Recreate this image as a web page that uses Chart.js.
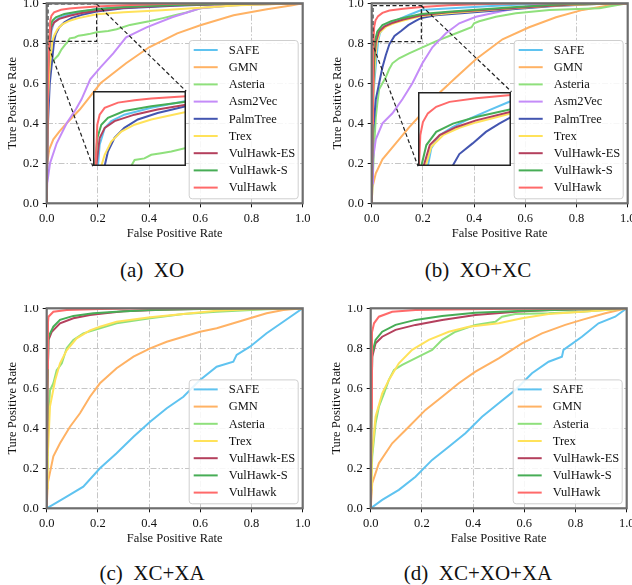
<!DOCTYPE html>
<html>
<head>
<meta charset="utf-8">
<script src="https://cdn.jsdelivr.net/npm/chart.js@4"></script>
<style>
  body { margin: 0; width: 632px; height: 585px; overflow: hidden; background: #fff; position: relative; font-family: "Liberation Serif", "DejaVu Serif", serif; }
  canvas { position: absolute; }
  .cap { position: absolute; font-size: 21px; color: #111; transform: translate(-50%, -50%); white-space: pre; }
</style>
</head>
<body>
<canvas id="pa" width="316" height="245" style="left:0px;top:0px"></canvas>
<canvas id="pb" width="316" height="245" style="left:325px;top:0px"></canvas>
<canvas id="pc" width="316" height="245" style="left:0px;top:305px"></canvas>
<canvas id="pd" width="316" height="245" style="left:324px;top:305px"></canvas>
<div class="cap" style="left:152px;top:270px">(a)  XO</div>
<div class="cap" style="left:478px;top:270px">(b)  XO+XC</div>
<div class="cap" style="left:152px;top:573px">(c)  XC+XA</div>
<div class="cap" style="left:478px;top:573px">(d)  XC+XO+XA</div>
<script>
// ---- data: ROC points [FPR, TPR] ----
const namesFull = ['SAFE', 'GMN', 'Asteria', 'Asm2Vec', 'PalmTree', 'Trex', 'VulHawk-ES', 'VulHawk-S', 'VulHawk'];
const namesShort = ['SAFE', 'GMN', 'Asteria', 'Trex', 'VulHawk-ES', 'VulHawk-S', 'VulHawk'];
const tickVals = [0, 0.2, 0.4, 0.6, 0.8, 1.0];

// (a) XO
const xoSAFE = [[0,0],[0.003,0.5],[0.008,0.72],[0.0152,0.81],[0.0186,0.863],[0.029,0.905],[0.0423,0.922],[0.069,0.938],[0.124,0.955],[0.195,0.972],[0.3,0.984],[0.5,0.993],[0.7,0.998],[1,1]];
const xoGMN = [[0,0],[0.002,0.2],[0.01,0.27],[0.026,0.32],[0.05,0.36],[0.078,0.4],[0.13,0.47],[0.21,0.6],[0.31,0.7],[0.4,0.78],[0.51,0.85],[0.6,0.89],[0.73,0.94],[0.86,0.97],[0.96,0.99],[1,1]];
const xoAsteria = [[0,0],[0.002,0.45],[0.005,0.58],[0.01,0.64],[0.015,0.68],[0.02,0.7],[0.03,0.72],[0.045,0.74],[0.058,0.77],[0.07,0.79],[0.083,0.81],[0.09,0.825],[0.11,0.829],[0.124,0.838],[0.144,0.842],[0.165,0.846],[0.195,0.855],[0.24,0.862],[0.273,0.87],[0.325,0.892],[0.4,0.91],[0.454,0.926],[0.5,0.94],[0.546,0.954],[0.6,0.975],[0.73,0.99],[0.88,0.997],[1,1]];
const xoAsm2Vec = [[0,0],[0.002,0.1],[0.013,0.2],[0.039,0.3],[0.078,0.4],[0.114,0.47],[0.136,0.52],[0.17,0.62],[0.21,0.68],[0.26,0.75],[0.31,0.83],[0.39,0.88],[0.49,0.93],[0.6,0.975],[0.73,0.99],[0.86,0.995],[1,1]];
const xoPalmTree = [[0,0],[0.005,0.4],[0.012,0.6],[0.02,0.7],[0.0288,0.81],[0.0355,0.846],[0.049,0.88],[0.069,0.905],[0.0966,0.926],[0.137,0.942],[0.195,0.959],[0.3,0.975],[0.5,0.988],[0.7,0.996],[1,1]];
const xoTrex = [[0,0],[0.003,0.45],[0.01,0.65],[0.016,0.74],[0.022,0.81],[0.0288,0.838],[0.0423,0.871],[0.0627,0.896],[0.0898,0.913],[0.124,0.926],[0.195,0.945],[0.3,0.955],[0.45,0.965],[0.6,0.978],[0.75,0.99],[0.9,0.997],[1,1]];
const xoES = [[0,0],[0.004,0.6],[0.008,0.75],[0.0118,0.81],[0.0186,0.88],[0.029,0.905],[0.049,0.922],[0.0898,0.938],[0.137,0.951],[0.195,0.963],[0.3,0.978],[0.5,0.99],[0.7,0.997],[1,1]];
const xoS = [[0,0],[0.004,0.65],[0.0097,0.81],[0.0138,0.88],[0.022,0.913],[0.0355,0.93],[0.069,0.947],[0.124,0.959],[0.195,0.97],[0.3,0.982],[0.5,0.992],[0.7,0.998],[1,1]];
const xoVulHawk = [[0,0],[0.003,0.4],[0.007,0.7],[0.0104,0.81],[0.0138,0.913],[0.0186,0.938],[0.0288,0.955],[0.056,0.968],[0.0898,0.974],[0.124,0.978],[0.195,0.984],[0.3,0.99],[0.45,0.996],[0.6,1],[1,1]];

// (b) XO+XC
const xcSAFE = [[0,0],[0.004,0.4],[0.01,0.6],[0.018,0.72],[0.025,0.808],[0.032,0.851],[0.049,0.883],[0.076,0.903],[0.11,0.923],[0.15,0.944],[0.194,0.966],[0.26,0.972],[0.33,0.976],[0.45,0.985],[0.6,0.995],[0.8,0.999],[1,1]];
const xcGMN = [[0,0],[0.003,0.08],[0.016,0.15],[0.042,0.22],[0.094,0.3],[0.146,0.38],[0.211,0.47],[0.263,0.55],[0.33,0.63],[0.407,0.72],[0.511,0.82],[0.615,0.88],[0.72,0.93],[0.824,0.967],[0.93,0.99],[1,1]];
const xcAsteria = [[0,0],[0.004,0.12],[0.009,0.27],[0.016,0.43],[0.022,0.5],[0.029,0.57],[0.042,0.6],[0.055,0.63],[0.068,0.67],[0.081,0.7],[0.107,0.725],[0.146,0.75],[0.198,0.78],[0.25,0.81],[0.33,0.85],[0.39,0.88],[0.4,0.9],[0.42,0.91],[0.485,0.933],[0.563,0.95],[0.694,0.967],[0.89,0.975],[0.954,0.99],[1,1]];
const xcAsm2Vec = [[0,0],[0.002,0.1],[0.005,0.22],[0.016,0.32],[0.042,0.4],[0.081,0.45],[0.12,0.52],[0.159,0.6],[0.198,0.7],[0.237,0.78],[0.29,0.85],[0.342,0.9],[0.407,0.933],[0.498,0.958],[0.563,0.975],[0.63,0.99],[0.69,0.997],[1,1]];
const xcPalmTree = [[0,0],[0.005,0.35],[0.016,0.52],[0.029,0.6],[0.042,0.68],[0.055,0.74],[0.069,0.795],[0.089,0.837],[0.116,0.863],[0.143,0.891],[0.17,0.911],[0.194,0.927],[0.25,0.94],[0.35,0.95],[0.5,0.965],[0.7,0.985],[0.9,0.998],[1,1]];
const xcTrex = [[0,0],[0.004,0.45],[0.01,0.65],[0.015,0.74],[0.0205,0.808],[0.032,0.855],[0.056,0.883],[0.089,0.901],[0.123,0.914],[0.194,0.936],[0.3,0.95],[0.5,0.97],[0.7,0.988],[0.9,0.998],[1,1]];
const xcES = [[0,0],[0.004,0.5],[0.01,0.72],[0.0165,0.808],[0.029,0.859],[0.049,0.883],[0.083,0.903],[0.123,0.919],[0.194,0.94],[0.3,0.955],[0.45,0.968],[0.6,0.98],[0.8,0.995],[1,1]];
const xcS = [[0,0],[0.004,0.55],[0.008,0.72],[0.0118,0.808],[0.022,0.859],[0.042,0.891],[0.076,0.911],[0.123,0.927],[0.194,0.946],[0.3,0.958],[0.395,0.967],[0.55,0.98],[0.75,0.995],[1,1]];
const xcVulHawk = [[0,0],[0.002,0.4],[0.005,0.7],[0.007,0.808],[0.0097,0.883],[0.015,0.915],[0.025,0.936],[0.042,0.952],[0.069,0.964],[0.123,0.973],[0.194,0.981],[0.3,0.99],[0.45,0.997],[0.6,1],[1,1]];

// (c) XC+XA
const xaSAFE = [[0,0],[0.04,0.03],[0.078,0.058],[0.143,0.108],[0.208,0.2],[0.273,0.275],[0.339,0.358],[0.404,0.433],[0.469,0.5],[0.534,0.558],[0.599,0.642],[0.664,0.708],[0.729,0.733],[0.742,0.767],[0.794,0.808],[0.859,0.875],[0.924,0.933],[1,1]];
const xaGMN = [[0,0],[0.004,0.125],[0.026,0.26],[0.052,0.325],[0.091,0.408],[0.13,0.475],[0.169,0.558],[0.208,0.625],[0.273,0.7],[0.339,0.758],[0.404,0.8],[0.469,0.833],[0.534,0.858],[0.599,0.883],[0.664,0.9],[0.729,0.925],[0.794,0.95],[0.859,0.975],[0.924,0.992],[1,1]];
const xaAsteria = [[0,0],[0.002,0.2],[0.004,0.425],[0.013,0.59],[0.026,0.625],[0.039,0.69],[0.059,0.725],[0.078,0.8],[0.104,0.842],[0.143,0.875],[0.208,0.9],[0.273,0.925],[0.404,0.95],[0.534,0.972],[0.664,0.983],[0.859,0.995],[1,1]];
const xaTrex = [[0,0],[0.002,0.1],[0.004,0.26],[0.013,0.51],[0.033,0.64],[0.052,0.725],[0.078,0.79],[0.117,0.85],[0.169,0.89],[0.208,0.908],[0.273,0.933],[0.404,0.955],[0.534,0.972],[0.664,0.988],[0.794,0.995],[1,1]];
const xaES = [[0,0],[0.003,0.6],[0.007,0.842],[0.02,0.883],[0.052,0.925],[0.104,0.95],[0.169,0.967],[0.228,0.975],[0.3,0.985],[0.45,0.993],[0.7,1],[1,1]];
const xaS = [[0,0],[0.003,0.6],[0.007,0.858],[0.026,0.908],[0.052,0.942],[0.104,0.962],[0.182,0.975],[0.273,0.983],[0.404,0.992],[0.6,0.997],[1,1]];
const xaVulHawk = [[0,0],[0.003,0.7],[0.005,0.93],[0.007,0.958],[0.026,0.983],[0.078,0.992],[0.21,0.997],[0.4,1],[1,1]];

// (d) XC+XO+XA
const allSAFE = [[0,0],[0.045,0.042],[0.11,0.092],[0.175,0.158],[0.24,0.242],[0.305,0.308],[0.37,0.375],[0.435,0.458],[0.5,0.525],[0.565,0.592],[0.63,0.675],[0.695,0.733],[0.747,0.758],[0.753,0.792],[0.825,0.858],[0.89,0.925],[0.955,0.958],[1,1]];
const allGMN = [[0,0],[0.006,0.125],[0.032,0.225],[0.084,0.325],[0.149,0.408],[0.214,0.492],[0.279,0.558],[0.344,0.625],[0.409,0.683],[0.5,0.75],[0.591,0.825],[0.669,0.875],[0.76,0.917],[0.825,0.942],[0.916,0.975],[1,1]];
const allAsteria = [[0,0],[0.003,0.15],[0.006,0.26],[0.019,0.425],[0.032,0.508],[0.052,0.575],[0.071,0.642],[0.091,0.692],[0.123,0.717],[0.162,0.742],[0.201,0.767],[0.24,0.792],[0.279,0.842],[0.331,0.883],[0.409,0.917],[0.487,0.933],[0.513,0.958],[0.565,0.972],[0.695,0.975],[0.825,0.983],[0.955,0.995],[1,1]];
const allTrex = [[0,0],[0.002,0.1],[0.004,0.26],[0.019,0.458],[0.045,0.575],[0.071,0.642],[0.11,0.725],[0.162,0.792],[0.227,0.842],[0.305,0.883],[0.383,0.908],[0.5,0.925],[0.591,0.95],[0.695,0.972],[0.825,0.983],[0.955,0.995],[1,1]];
const allES = [[0,0],[0.003,0.5],[0.006,0.758],[0.019,0.825],[0.045,0.858],[0.097,0.892],[0.175,0.917],[0.279,0.942],[0.409,0.967],[0.565,0.983],[0.7,0.992],[1,1]];
const allS = [[0,0],[0.003,0.5],[0.006,0.775],[0.019,0.842],[0.045,0.883],[0.097,0.917],[0.175,0.942],[0.279,0.962],[0.409,0.978],[0.6,0.988],[1,1]];
const allVulHawk = [[0,0],[0.002,0.5],[0.005,0.88],[0.013,0.925],[0.032,0.958],[0.084,0.983],[0.175,0.992],[0.45,0.997],[1,1]];

// ---- styles ----
const colorOf = {
  'SAFE': '#5fc3f0', 'GMN': '#ffb264', 'Asteria': '#8fe07c', 'Asm2Vec': '#c48cf8', 'PalmTree': '#4355b0',
  'Trex': '#ffe25a', 'VulHawk-ES': '#b4405d', 'VulHawk-S': '#47ad56', 'VulHawk': '#ff6a6a'
};
const SERIF = '"Liberation Serif", "DejaVu Serif", serif';
Chart.defaults.font.family = SERIF;
Chart.defaults.font.size = 12;
Chart.defaults.color = '#111';
Chart.defaults.animation = false;

const framePlugin = {
  id: 'frame',
  beforeDraw(ch, args, o) {
    if (!o.bg) return;
    const c = ch.ctx;
    c.save(); c.fillStyle = '#fff'; c.fillRect(0, 0, ch.width, ch.height); c.restore();
  },
  afterDraw(ch, args, o) {
    const c = ch.ctx, a = ch.chartArea;
    c.save();
    c.strokeStyle = o.color || '#707070';
    c.lineWidth = o.width || 2;
    const h = o.inside ? c.lineWidth / 2 : 0;
    c.strokeRect(a.left + h, a.top + h, a.right - a.left - 2 * h, a.bottom - a.top - 2 * h);
    c.restore();
  }
};

// dashed zoom rectangle + connector lines to the inset
const zoomMarkPlugin = {
  id: 'zoomMark',
  afterDatasetsDraw(ch, args, o) {
    if (!o.region) return;
    const c = ch.ctx, xs = ch.scales.x, ys = ch.scales.y;
    const [rx0, rx1, ry0, ry1] = o.region, [bx0, bx1, by0, by1] = o.box;
    c.save();
    c.strokeStyle = '#222'; c.lineWidth = 1.2; c.setLineDash([4, 2.5]);
    c.strokeRect(xs.getPixelForValue(rx0), ys.getPixelForValue(ry1),
                 xs.getPixelForValue(rx1) - xs.getPixelForValue(rx0), ys.getPixelForValue(ry0) - ys.getPixelForValue(ry1));
    c.beginPath();
    c.moveTo(xs.getPixelForValue(rx1), ys.getPixelForValue(ry1));
    c.lineTo(xs.getPixelForValue(bx1), ys.getPixelForValue(by1));
    c.moveTo(xs.getPixelForValue(0), ys.getPixelForValue(ry0));
    c.lineTo(xs.getPixelForValue(bx0), ys.getPixelForValue(by0));
    c.stroke();
    c.restore();
  }
};

// legend box in the lower right of the plot
const boxLegendPlugin = {
  id: 'boxLegend',
  afterDatasetsDraw(ch) {
    const c = ch.ctx, a = ch.chartArea, ds = ch.data.datasets;
    const rowH = 17.2, w = 109, hgt = ds.length * rowH + 3.5;
    const x0 = a.right - 5 - w, y0 = a.bottom - 5 - hgt;
    c.save();
    c.fillStyle = 'rgba(255,255,255,0.85)';
    c.strokeStyle = '#cfcfcf'; c.lineWidth = 1;
    c.beginPath(); c.roundRect(x0 + 0.5, y0 + 0.5, w, hgt, 3); c.fill(); c.stroke();
    c.font = '12.5px ' + SERIF;
    c.textAlign = 'left'; c.textBaseline = 'middle';
    ds.forEach((d, i) => {
      const y = y0 + 10 + i * rowH;
      c.strokeStyle = d.borderColor; c.lineWidth = 2;
      c.beginPath(); c.moveTo(x0 + 5, y); c.lineTo(x0 + 29, y); c.stroke();
      c.fillStyle = '#111';
      c.fillText(d.label, x0 + 40, y + 0.5);
    });
    c.restore();
  }
};

function makeSets(names, series) {
  return names.map((n, i) => ({
    label: n, data: series[i], borderColor: colorOf[n], borderWidth: 2,
    pointRadius: 0, tension: 0, fill: false, order: names.length - 1 - i
  }));
}

function axisOpts(title, isX) {
  return {
    type: 'linear', min: 0, max: 1,
    afterBuildTicks: s => { s.ticks = tickVals.map(v => ({ value: v })); },
    ticks: { callback: v => v.toFixed(1), padding: 4, maxRotation: 0, autoSkip: false, color: '#111', font: { size: 12.5 } },
    grid: { color: '#c6c6c6', lineWidth: 1, drawTicks: true, tickLength: 4, tickColor: '#111', tickWidth: 1, tickBorderDash: [] },
    border: { display: false, dash: [6, 2, 1.5, 2] },
    title: { display: true, text: title, color: '#111', font: { size: 12.5 }, padding: isX ? { top: 0, bottom: 3.5 } : { top: 5, bottom: 0 } },
    afterFit: isX
      ? s => { s.height = 41.7; s.paddingLeft = 0; s.paddingRight = 0; }
      : s => { s.width = 46.7; s.paddingTop = 0; s.paddingBottom = 0; }
  };
}

function panel(id, names, series, inset) {
  const cv = document.getElementById(id);
  const chart = new Chart(cv, {
    type: 'line',
    data: { datasets: makeSets(names, series) },
    options: {
      responsive: false, animation: false,
      layout: { padding: { top: 3.3, right: 13.3, left: 0, bottom: 0 } },
      plugins: {
        legend: { display: false }, tooltip: { enabled: false },
        zoomMark: inset || {},
        frame: { color: '#6e6e6e', width: 2.2 }
      },
      scales: { x: axisOpts('False Positive Rate', true), y: axisOpts('Ture Positive Rate', false) }
    },
    plugins: [zoomMarkPlugin, boxLegendPlugin, framePlugin]
  });

  if (!inset) return;
  const xs = chart.scales.x, ys = chart.scales.y;
  const L = Math.round(xs.getPixelForValue(inset.box[0])), R = Math.round(xs.getPixelForValue(inset.box[1]));
  const T = Math.round(ys.getPixelForValue(inset.box[3])), B = Math.round(ys.getPixelForValue(inset.box[2]));
  const ic = document.createElement('canvas');
  ic.width = R - L; ic.height = B - T;
  ic.style.left = (cv.offsetLeft + L) + 'px';
  ic.style.top = (cv.offsetTop + T) + 'px';
  document.body.appendChild(ic);
  new Chart(ic, {
    type: 'line',
    data: { datasets: makeSets(names, series) },
    options: {
      responsive: false, animation: false,
      layout: { padding: 0 },
      plugins: { legend: { display: false }, tooltip: { enabled: false }, frame: { color: '#222', width: 1.5, bg: true, inside: true } },
      scales: {
        x: { type: 'linear', display: false, min: inset.region[0], max: inset.region[1] },
        y: { type: 'linear', display: false, min: inset.region[2], max: inset.region[3] }
      }
    },
    plugins: [framePlugin]
  });
}

panel('pa', namesFull, [xoSAFE, xoGMN, xoAsteria, xoAsm2Vec, xoPalmTree, xoTrex, xoES, xoS, xoVulHawk],
      { region: [0.005, 0.195, 0.81, 0.997], box: [0.18, 0.545, 0.185, 0.56] });
panel('pb', namesFull, [xcSAFE, xcGMN, xcAsteria, xcAsm2Vec, xcPalmTree, xcTrex, xcES, xcS, xcVulHawk],
      { region: [0.005, 0.194, 0.808, 0.988], box: [0.181, 0.546, 0.185, 0.558] });
panel('pc', namesShort, [xaSAFE, xaGMN, xaAsteria, xaTrex, xaES, xaS, xaVulHawk], null);
panel('pd', namesShort, [allSAFE, allGMN, allAsteria, allTrex, allES, allS, allVulHawk], null);
</script>
</body>
</html>
